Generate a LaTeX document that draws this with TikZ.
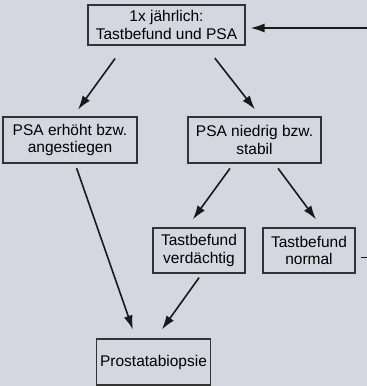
\documentclass[tikz,border=0pt]{standalone}
\usepackage{fontspec}
\setmainfont{Liberation Sans}
\usetikzlibrary{arrows.meta,positioning}
\definecolor{hintergrund}{RGB}{212,215,223}

\begin{document}
\begin{tikzpicture}[on grid,node font=\fontsize{15.5}{17.5}\selectfont]
	\tikzstyle{box}=[draw={rgb:black,4;white,1},line width=1.1pt,align=center,inner sep=0pt,minimum width=92pt,minimum height=46pt]
	\tikzstyle{pfeil}=[-{Latex[length=14pt,width=9pt]},line width=1.6pt,color={rgb:black,9;white,1}]
	
	\fill[hintergrund] (0,0) rectangle (367pt,-386pt);
	\useasboundingbox (0,0) rectangle (367pt,-386pt);
	
	\node[box,minimum width=157pt,minimum height=40pt] (Jahr) at (166.5pt,-25pt) {1x jährlich:\\Tastbefund und PSA};
	\node[box,minimum width=134pt] (Erh)  [below left=115pt and 96.5pt of Jahr]   {PSA erhöht bzw.\\angestiegen};
	\node[box,minimum width=133pt] (Nied) [below right=115pt and 88pt of Jahr]    {PSA niedrig bzw.\\stabil};
	\node[box,minimum height=45pt] (Verd) [below left=110.5pt and 55.5pt of Nied] {Tastbefund\\verdächtig};
	\node[box,minimum height=45pt] (Norm) [right=110pt of Verd]                   {Tastbefund\\normal};
	\node[box,minimum width=114pt] (Biop) [below left=111.5pt and 45.5pt of Verd] {Prostatabiopsie};
	\coordinate (Rand) at (385pt,-28pt);
	
	\path[every edge/.append style={pfeil}]
	([xshift=-42pt]Jahr.south) edge [shorten <=16pt,shorten >=8.5pt] ([xshift=3pt]Erh.north)
	([xshift=38.5pt]Jahr.south) edge [shorten <=16pt,shorten >=9pt] ([xshift=6pt]Nied.north)
	([xshift=-21pt]Nied.south) edge [shorten <=6pt,shorten >=10pt] ([xshift=-12pt]Verd.north)
	([xshift=20pt]Nied.south) edge [shorten <=6pt,shorten >=10pt] ([xshift=13pt]Norm.north)
	([xshift=5pt]Erh.south) edge [shorten <=5pt,shorten >=9.5pt] ([xshift=-17.5pt]Biop.north)
	([xshift=3pt]Verd.south) edge [shorten <=5pt,shorten >=11pt] ([xshift=2pt]Biop.north);
	
	\draw[pfeil,shorten <=5pt,shorten >=5pt] ([yshift=-7pt]Norm.east) -| (Rand) -- ([yshift=-3pt]Jahr.east);
\end{tikzpicture}
\end{document}
